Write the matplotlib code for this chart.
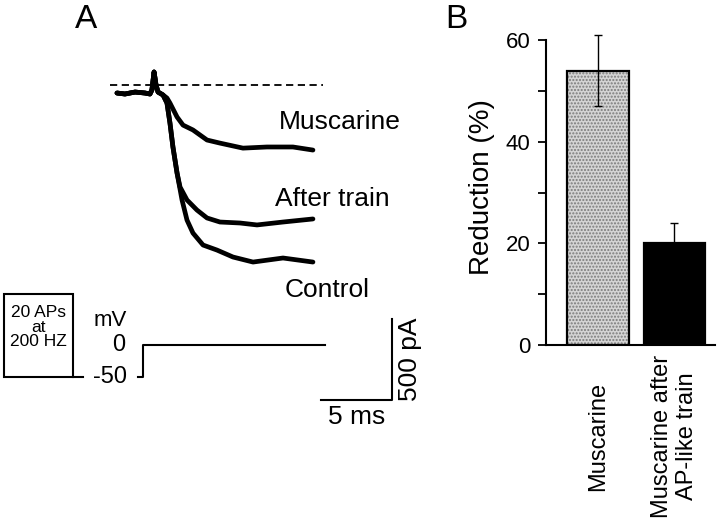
# Panel A: current traces with voltage protocol; Panel B: reduction bars
import matplotlib.pyplot as plt
from matplotlib.patches import Rectangle

plt.rcParams['font.family'] = ['Liberation Sans', 'DejaVu Sans']

# traces (time in ms, current in pA)
t_common = [0.0, 0.56, 1.27, 1.97, 2.32, 2.46, 2.61, 2.75, 2.89, 3.24]
i_common = [0, -6, 6, 0, -6, 19, 130, 49, 6, -12]

t_musc = [3.52, 3.73, 4.23, 4.65, 5.35, 6.34, 7.25, 8.87, 10.56, 12.39, 13.80]
i_musc = [-31, -62, -148, -198, -228, -290, -309, -340, -333, -333, -352]

t_after = [3.52, 3.73, 3.94, 4.23, 4.44, 4.93, 5.63, 6.34, 7.25, 8.66, 9.86, 11.69, 13.80]
i_after = [-62, -185, -333, -494, -580, -660, -722, -771, -796, -802, -814, -796, -777]

t_ctrl = [3.52, 3.73, 3.94, 4.23, 4.58, 4.93, 5.35, 6.06, 7.04, 8.17, 9.58, 11.69, 13.80]
i_ctrl = [-62, -185, -333, -494, -660, -784, -864, -938, -969, -1012, -1043, -1018, -1043]

peak_level = 49          # dashed reference line, pA
dash_t = [-0.49, 14.5]

# voltage protocol (mV)
t_step = [1.48, 1.83, 1.83, 14.65]
v_step = [-50, -50, 0, 0]

# panel B
conditions = ['Muscarine', 'Muscarine after\nAP-like train']
reduction = [54, 20]
sem = [7, 4]

fig = plt.figure(figsize=(7.2, 5.28), dpi=100)

# ---- Panel A
axA = fig.add_axes([0, 0, 420 / 720, 1])
axA.set_xlim(-8.239, 21.338)
axA.set_ylim(-2684, 574)
axA.axis('off')

lw = 3.4
axA.plot(t_common + t_musc, i_common + i_musc, color='black', lw=lw, solid_capstyle='round')
axA.plot(t_common + t_after, i_common + i_after, color='black', lw=lw, solid_capstyle='round')
axA.plot(t_common + t_ctrl, i_common + i_ctrl, color='black', lw=lw, solid_capstyle='round')
axA.plot(dash_t, [peak_level, peak_level], color='black', lw=1.3, ls=(0, (4, 2.5)))

axA.text(15.7, -179, 'Muscarine', fontsize=19, ha='center', va='center')
axA.text(15.14, -654, 'After train', fontsize=19, ha='center', va='center')
axA.text(14.8, -1216, 'Control', fontsize=19, ha='center', va='center')

# scale bars
axA.plot([14.37, 19.37, 19.37], [-1895, -1895, -1395], color='black', lw=1.5)
axA.text(16.9, -1925, '5 ms', fontsize=19, ha='center', va='top')
axA.text(20.65, -1645, '500 pA', fontsize=19, ha='center', va='center', rotation=90)

# voltage protocol
axV = fig.add_axes([0, 108 / 528, 420 / 720, 140 / 528])
axV.set_xlim(-8.239, 21.338)
axV.set_ylim(-117.2, 101.6)
axV.axis('off')
axV.plot(t_step, v_step, color='black', lw=1.5)
axV.add_patch(Rectangle((-7.96, -50), 4.86, 129.7, fill=False, ec='black', lw=1.5))
axV.plot([-3.1, -2.39], [-50, -50], color='black', lw=1.5)
axV.text(-5.53, 28.1, '20 APs\nat\n200 HZ', fontsize=12.5, ha='center', va='center',
         multialignment='center', linespacing=0.95)
axV.text(-0.49, 39, 'mV', fontsize=16, ha='center', va='center')
axV.text(0.56, 0, '0', fontsize=17, ha='right', va='center')
axV.text(0.70, -50, '-50', fontsize=17, ha='right', va='center')

fig.text(86 / 720, 1 - 20 / 528, 'A', fontsize=24, ha='center', va='center')
fig.text(456 / 720, 1 - 20 / 528, 'B', fontsize=24, ha='center', va='center')

# ---- Panel B
axB = fig.add_axes([546 / 720, 183 / 528, 169 / 720, 315 / 528])
x = [0, 1]
axB.bar(x[0], reduction[0], width=0.81, color='#d4d4d4', hatch='.....',
        edgecolor='#7a7a7a', lw=0, zorder=2)
axB.bar(x[0], reduction[0], width=0.81, fill=False, edgecolor='black', lw=1.6, zorder=3)
axB.bar(x[1], reduction[1], width=0.81, color='black', edgecolor='black', lw=1.6, zorder=3)
axB.errorbar(x, reduction, yerr=sem, fmt='none', ecolor='black', elinewidth=1.0,
             capsize=3, capthick=1.0, zorder=4)

axB.set_xlim(-0.68, 1.53)
axB.set_ylim(0, 62)
axB.spines['left'].set_bounds(0, 60)
axB.set_yticks([0, 20, 40, 60])
axB.set_yticks([10, 30, 50], minor=True)
axB.tick_params(axis='y', which='both', direction='out', length=6, width=1.3,
                labelsize=16, pad=5)
axB.set_xticks(x)
axB.set_xticklabels(conditions, rotation=90, fontsize=17, va='center',
                    ha='center', multialignment='center')
axB.tick_params(axis='x', length=0, pad=66)
axB.spines['top'].set_visible(False)
axB.spines['right'].set_visible(False)
axB.spines['left'].set_linewidth(1.5)
axB.spines['bottom'].set_linewidth(1.5)
axB.set_ylabel('Reduction (%)', fontsize=20, labelpad=8)

plt.savefig('out.png', dpi=100)
